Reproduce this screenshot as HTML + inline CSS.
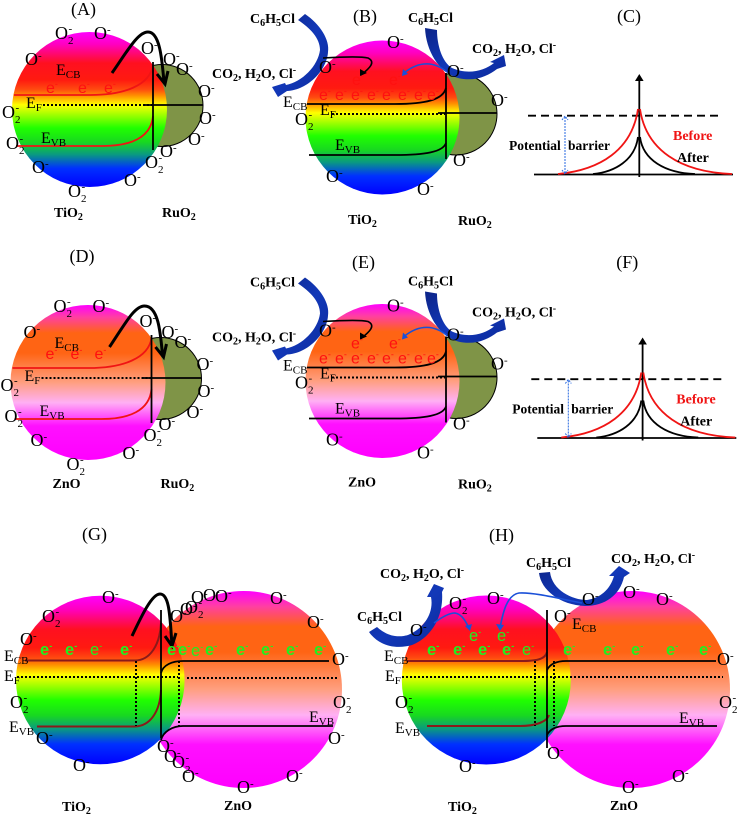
<!DOCTYPE html>
<html>
<head>
<meta charset="utf-8">
<style>
html,body{margin:0;padding:0;background:#fff}
svg{display:block}
text{font-family:"Liberation Serif",serif;fill:#000}
.l{font-size:18px}
.t{font-size:18px}
.b{font-size:16px}
.u{font-size:11px}
.d{font-size:11px}
.n{font-size:14px;font-weight:bold}
.n .d{font-size:10px}
.n .u{font-size:10px}
.pb{font-size:13.5px;font-weight:bold}
.er,.eg{font-family:"Liberation Sans",sans-serif;font-size:16px}
.er{fill:#ff1010}
.eg{fill:#20f020;font-weight:bold;font-size:16.5px}
.eg.th{font-weight:normal}
.er .u,.eg .u{font-size:9px}
.s{fill:none;stroke:#000;stroke-width:1.8}
.r{fill:none;stroke:#f01414;stroke-width:1.8}
.m{fill:none;stroke:#8a1a1a;stroke-width:2}
.dot{fill:none;stroke:#000;stroke-width:2;stroke-dasharray:2 2}
.ar{fill:none;stroke:#000;stroke-width:3}
.bl{fill:none;stroke:#1a50d8;stroke-width:1.6}
.blh{fill:#1a50d8}
</style>
</head>
<body>
<svg width="738" height="815" viewBox="0 0 738 815" xmlns="http://www.w3.org/2000/svg">
<defs>
<linearGradient id="ti" x1="0" y1="0" x2="0" y2="1">
<stop offset="0" stop-color="#ff00ff"/><stop offset=".08" stop-color="#ff00c0"/><stop offset=".2" stop-color="#ff1020"/><stop offset=".31" stop-color="#ff1a10"/><stop offset=".37" stop-color="#ff4a10"/><stop offset=".41" stop-color="#ff9000"/><stop offset=".47" stop-color="#ffff00"/><stop offset=".62" stop-color="#20ff00"/><stop offset=".71" stop-color="#18d820"/><stop offset=".79" stop-color="#0a9a80"/><stop offset=".88" stop-color="#0030ff"/><stop offset="1" stop-color="#0000ff"/>
</linearGradient>
<linearGradient id="zn" x1="0" y1="0" x2="0" y2="1">
<stop offset="0" stop-color="#ff00ff"/><stop offset=".08" stop-color="#ff40a0"/><stop offset=".18" stop-color="#ff6414"/><stop offset=".31" stop-color="#ff6414"/><stop offset=".5" stop-color="#ff9f80"/><stop offset=".63" stop-color="#ffb0f4"/><stop offset=".78" stop-color="#ff10ff"/><stop offset="1" stop-color="#ff00ff"/>
</linearGradient>
<linearGradient id="cr" x1="0" y1="0" x2="1" y2="1">
<stop offset="0" stop-color="#0c2488"/><stop offset=".5" stop-color="#1238b8"/><stop offset="1" stop-color="#0c2a9c"/>
</linearGradient>
</defs>

<!-- PANEL A -->
<g>
<circle cx="162" cy="105.5" r="41" fill="#7f9447" stroke="#000" stroke-width="1"/>
<circle cx="89.5" cy="109.5" r="77.5" fill="url(#ti)"/>
<path class="r" d="M14 95H90C125 95 150 85 153 65"/>
<path class="r" d="M16 146H103C130 146 151 138 153 116"/>
<path class="dot" d="M43 105H153"/>
<path class="s" d="M145 105H203"/>
<path class="s" d="M153 62V150"/>
<path class="ar" d="M112 73C128 50 138 32 148 32C160 32 162 60 164 82M157 74L165 84L168 71"/>
<text class="t" x="71" y="15">(A)</text>
<text class="b" x="56" y="75">E<tspan class="d" dy="3">CB</tspan></text>
<text class="b" x="26" y="108">E<tspan class="d" dy="3">F</tspan></text>
<text class="b" x="41" y="143">E<tspan class="d" dy="3">VB</tspan></text>
<text class="er" x="46" y="93">e<tspan class="u" dy="-6">-</tspan></text>
<text class="er" x="78" y="93">e<tspan class="u" dy="-6">-</tspan></text>
<text class="er" x="104" y="93">e<tspan class="u" dy="-6">-</tspan></text>
<text class="l" x="55" y="39">O<tspan class="d" dy="5">2</tspan><tspan class="u" dx="-5" dy="-12">-</tspan></text>
<text class="l" x="94" y="39">O<tspan class="u" dy="-6">-</tspan></text>
<text class="l" x="25" y="65">O<tspan class="u" dy="-6">-</tspan></text>
<text class="l" x="141" y="54">O<tspan class="u" dy="-6">-</tspan></text>
<text class="l" x="163" y="65">O<tspan class="u" dy="-6">-</tspan></text>
<text class="l" x="176" y="75">O<tspan class="u" dy="-6">-</tspan></text>
<text class="l" x="198" y="97">O<tspan class="u" dy="-6">-</tspan></text>
<text class="l" x="199" y="124">O<tspan class="u" dy="-6">-</tspan></text>
<text class="l" x="188" y="145">O<tspan class="u" dy="-6">-</tspan></text>
<text class="l" x="160" y="157">O<tspan class="u" dy="-6">-</tspan></text>
<text class="l" x="145" y="168">O<tspan class="d" dy="5">2</tspan><tspan class="u" dx="-5" dy="-12">-</tspan></text>
<text class="l" x="124" y="186">O<tspan class="u" dy="-6">-</tspan></text>
<text class="l" x="32" y="173">O<tspan class="u" dy="-6">-</tspan></text>
<text class="l" x="68" y="197">O<tspan class="d" dy="5">2</tspan><tspan class="u" dx="-5" dy="-12">-</tspan></text>
<text class="l" x="6" y="149">O<tspan class="d" dy="5">2</tspan><tspan class="u" dx="-5" dy="-12">-</tspan></text>
<text class="l" x="2" y="118">O<tspan class="d" dy="5">2</tspan><tspan class="u" dx="-5" dy="-12">-</tspan></text>
<text class="n" x="54" y="217">TiO<tspan class="d" dy="3">2</tspan></text>
<text class="n" x="162" y="217">RuO<tspan class="d" dy="3">2</tspan></text>
</g>

<!-- PANEL D -->
<g transform="translate(-1.5 273)">
<circle cx="162" cy="105.5" r="41" fill="#7f9447" stroke="#000" stroke-width="1"/>
<circle cx="89.5" cy="109.5" r="77.5" fill="url(#zn)"/>
<path class="r" d="M14 95H90C125 95 150 85 153 65"/>
<path class="r" d="M16 146H103C130 146 151 138 153 116"/>
<path class="dot" d="M43 105H153"/>
<path class="s" d="M145 105H203"/>
<path class="s" d="M153 62V150"/>
<path class="ar" d="M111 74C127 50 136 33 146 33C160 33 162 60 164 82M157 74L165 84L168 71"/>
<text class="t" x="71" y="-11">(D)</text>
<text class="b" x="56" y="75">E<tspan class="d" dy="3">CB</tspan></text>
<text class="b" x="26" y="108">E<tspan class="d" dy="3">F</tspan></text>
<text class="b" x="41" y="143">E<tspan class="d" dy="3">VB</tspan></text>
<text class="er" x="47" y="86">e<tspan class="u" dy="-6">-</tspan></text>
<text class="er" x="72" y="86">e<tspan class="u" dy="-6">-</tspan></text>
<text class="er" x="96" y="86">e<tspan class="u" dy="-6">-</tspan></text>
<text class="l" x="55" y="39">O<tspan class="d" dy="5">2</tspan><tspan class="u" dx="-5" dy="-12">-</tspan></text>
<text class="l" x="94" y="39">O<tspan class="u" dy="-6">-</tspan></text>
<text class="l" x="25" y="65">O<tspan class="u" dy="-6">-</tspan></text>
<text class="l" x="141" y="54">O<tspan class="u" dy="-6">-</tspan></text>
<text class="l" x="163" y="65">O<tspan class="u" dy="-6">-</tspan></text>
<text class="l" x="176" y="75">O<tspan class="u" dy="-6">-</tspan></text>
<text class="l" x="198" y="97">O<tspan class="u" dy="-6">-</tspan></text>
<text class="l" x="199" y="124">O<tspan class="u" dy="-6">-</tspan></text>
<text class="l" x="188" y="145">O<tspan class="u" dy="-6">-</tspan></text>
<text class="l" x="160" y="157">O<tspan class="u" dy="-6">-</tspan></text>
<text class="l" x="145" y="168">O<tspan class="d" dy="5">2</tspan><tspan class="u" dx="-5" dy="-12">-</tspan></text>
<text class="l" x="124" y="186">O<tspan class="u" dy="-6">-</tspan></text>
<text class="l" x="32" y="173">O<tspan class="u" dy="-6">-</tspan></text>
<text class="l" x="68" y="197">O<tspan class="d" dy="5">2</tspan><tspan class="u" dx="-5" dy="-12">-</tspan></text>
<text class="l" x="6" y="149">O<tspan class="d" dy="5">2</tspan><tspan class="u" dx="-5" dy="-12">-</tspan></text>
<text class="l" x="2" y="118">O<tspan class="d" dy="5">2</tspan><tspan class="u" dx="-5" dy="-12">-</tspan></text>
<text class="n" x="54" y="215">ZnO</text>
<text class="n" x="162" y="215">RuO<tspan class="d" dy="3">2</tspan></text>
</g>

<!-- PANEL B -->
<g>
<circle cx="456" cy="114" r="41" fill="#7f9447" stroke="#000" stroke-width="1"/>
<circle cx="382.5" cy="117.5" r="77" fill="url(#ti)"/>
<path class="s" d="M307 104H395C425 104 443 100 446 88"/>
<path class="s" d="M309 155H395C425 155 443 152 446 143"/>
<path class="dot" d="M332 114H445"/>
<path class="s" d="M438 113H497"/>
<path class="s" d="M446 73V159"/>
<path fill="url(#cr)" d="M305 14C320 24 330 40 328 52C327 70 308 90 287 91L278 97L272 87L285 83L286 85C302 82 318 66 320 50C320 38 310 28 298 20Z"/>
<path fill="url(#cr)" d="M425 28C426 50 438 72 458 78C475 82 488 76 497 69L506 66L504 55L490 62L494 63C484 71 468 75 452 68C442 62 437 45 437 30Z"/>
<path fill="none" stroke="#000" stroke-width="1.6" d="M323 58C340 57 360 56 368 58C376 62 370 68 361 75"/>
<path fill="#000" d="M360 76L360 69L367 73Z"/>
<path class="bl" d="M447 72C435 62 420 60 404 73"/>
<path class="blh" d="M402 76L403 69L408 74Z"/>
<text class="t" x="353" y="22">(B)</text>
<text class="n" x="250" y="23">C<tspan class="d" dy="3">6</tspan><tspan dy="-3">H</tspan><tspan class="d" dy="3">5</tspan><tspan dy="-3">Cl</tspan></text>
<text class="n" x="408" y="22">C<tspan class="d" dy="3">6</tspan><tspan dy="-3">H</tspan><tspan class="d" dy="3">5</tspan><tspan dy="-3">Cl</tspan></text>
<text class="n" x="212" y="78">CO<tspan class="d" dy="3">2</tspan><tspan dy="-3">, H</tspan><tspan class="d" dy="3">2</tspan><tspan dy="-3">O, Cl</tspan><tspan class="u" dy="-5">-</tspan></text>
<text class="n" x="472" y="53">CO<tspan class="d" dy="3">2</tspan><tspan dy="-3">, H</tspan><tspan class="d" dy="3">2</tspan><tspan dy="-3">O, Cl</tspan><tspan class="u" dy="-5">-</tspan></text>
<text class="b" x="283" y="107">E<tspan class="d" dy="3">CB</tspan></text>
<text class="b" x="320" y="115">E<tspan class="d" dy="3">F</tspan></text>
<text class="b" x="335" y="150">E<tspan class="d" dy="3">VB</tspan></text>
<text class="er" x="319" y="100">e<tspan class="u" dy="-6">-</tspan></text>
<text class="er" x="335" y="100">e<tspan class="u" dy="-6">-</tspan></text>
<text class="er" x="351" y="100">e<tspan class="u" dy="-6">-</tspan></text>
<text class="er" x="367" y="100">e<tspan class="u" dy="-6">-</tspan></text>
<text class="er" x="382" y="100">e<tspan class="u" dy="-6">-</tspan></text>
<text class="er" x="398" y="100">e<tspan class="u" dy="-6">-</tspan></text>
<text class="er" x="414" y="100">e<tspan class="u" dy="-6">-</tspan></text>
<text class="er" x="427" y="100">e<tspan class="u" dy="-6">-</tspan></text>
<text class="er" x="352" y="85">e<tspan class="u" dy="-6">-</tspan></text>
<text class="er" x="389" y="85">e<tspan class="u" dy="-6">-</tspan></text>
<text class="l" x="295" y="125">O<tspan class="d" dy="5">2</tspan><tspan class="u" dx="-5" dy="-12">-</tspan></text>
<text class="l" x="387" y="48">O<tspan class="u" dy="-6">-</tspan></text>
<text class="l" x="319" y="73">O<tspan class="u" dy="-6">-</tspan></text>
<text class="l" x="447" y="77">O<tspan class="u" dy="-6">-</tspan></text>
<text class="l" x="491" y="106">O<tspan class="u" dy="-6">-</tspan></text>
<text class="l" x="453" y="166">O<tspan class="u" dy="-6">-</tspan></text>
<text class="l" x="326" y="182">O<tspan class="u" dy="-6">-</tspan></text>
<text class="l" x="417" y="195">O<tspan class="u" dy="-6">-</tspan></text>
<text class="n" x="348" y="224">TiO<tspan class="d" dy="3">2</tspan></text>
<text class="n" x="458" y="225">RuO<tspan class="d" dy="3">2</tspan></text>
</g>

<!-- PANEL E -->
<g transform="translate(0 263.5)">
<circle cx="456" cy="114" r="41" fill="#7f9447" stroke="#000" stroke-width="1"/>
<circle cx="382.5" cy="117.5" r="77" fill="url(#zn)"/>
<path class="s" d="M307 104H395C425 104 443 100 446 88"/>
<path class="s" d="M309 155H395C425 155 443 152 446 143"/>
<path class="dot" d="M332 114H445"/>
<path class="s" d="M438 113H497"/>
<path class="s" d="M446 73V159"/>
<path fill="url(#cr)" d="M305 14C320 24 330 40 328 52C327 70 308 90 287 91L278 97L272 87L285 83L286 85C302 82 318 66 320 50C320 38 310 28 298 20Z"/>
<path fill="url(#cr)" d="M425 28C426 50 438 72 458 78C475 82 488 76 497 69L506 66L504 55L490 62L494 63C484 71 468 75 452 68C442 62 437 45 437 30Z"/>
<path fill="none" stroke="#000" stroke-width="1.6" d="M323 58C340 57 360 56 368 58C376 62 370 68 361 75"/>
<path fill="#000" d="M360 76L360 69L367 73Z"/>
<path class="bl" d="M447 72C435 62 420 60 404 73"/>
<path class="blh" d="M402 76L403 69L408 74Z"/>
<text class="t" x="352" y="4.5">(E)</text>
<text class="n" x="250" y="23">C<tspan class="d" dy="3">6</tspan><tspan dy="-3">H</tspan><tspan class="d" dy="3">5</tspan><tspan dy="-3">Cl</tspan></text>
<text class="n" x="408" y="22">C<tspan class="d" dy="3">6</tspan><tspan dy="-3">H</tspan><tspan class="d" dy="3">5</tspan><tspan dy="-3">Cl</tspan></text>
<text class="n" x="212" y="78">CO<tspan class="d" dy="3">2</tspan><tspan dy="-3">, H</tspan><tspan class="d" dy="3">2</tspan><tspan dy="-3">O, Cl</tspan><tspan class="u" dy="-5">-</tspan></text>
<text class="n" x="472" y="53">CO<tspan class="d" dy="3">2</tspan><tspan dy="-3">, H</tspan><tspan class="d" dy="3">2</tspan><tspan dy="-3">O, Cl</tspan><tspan class="u" dy="-5">-</tspan></text>
<text class="b" x="283" y="107">E<tspan class="d" dy="3">CB</tspan></text>
<text class="b" x="320" y="115">E<tspan class="d" dy="3">F</tspan></text>
<text class="b" x="335" y="150">E<tspan class="d" dy="3">VB</tspan></text>
<text class="er" x="319" y="100">e<tspan class="u" dy="-6">-</tspan></text>
<text class="er" x="335" y="100">e<tspan class="u" dy="-6">-</tspan></text>
<text class="er" x="351" y="100">e<tspan class="u" dy="-6">-</tspan></text>
<text class="er" x="367" y="100">e<tspan class="u" dy="-6">-</tspan></text>
<text class="er" x="382" y="100">e<tspan class="u" dy="-6">-</tspan></text>
<text class="er" x="398" y="100">e<tspan class="u" dy="-6">-</tspan></text>
<text class="er" x="414" y="100">e<tspan class="u" dy="-6">-</tspan></text>
<text class="er" x="427" y="100">e<tspan class="u" dy="-6">-</tspan></text>
<text class="er" x="351" y="85">e<tspan class="u" dy="-6">-</tspan></text>
<text class="er" x="389" y="85">e<tspan class="u" dy="-6">-</tspan></text>
<text class="l" x="295" y="125">O<tspan class="d" dy="5">2</tspan><tspan class="u" dx="-5" dy="-12">-</tspan></text>
<text class="l" x="387" y="48">O<tspan class="u" dy="-6">-</tspan></text>
<text class="l" x="319" y="73">O<tspan class="u" dy="-6">-</tspan></text>
<text class="l" x="447" y="77">O<tspan class="u" dy="-6">-</tspan></text>
<text class="l" x="491" y="106">O<tspan class="u" dy="-6">-</tspan></text>
<text class="l" x="453" y="166">O<tspan class="u" dy="-6">-</tspan></text>
<text class="l" x="326" y="182">O<tspan class="u" dy="-6">-</tspan></text>
<text class="l" x="417" y="195">O<tspan class="u" dy="-6">-</tspan></text>
<text class="n" x="348" y="223">ZnO</text>
<text class="n" x="458" y="225">RuO<tspan class="d" dy="3">2</tspan></text>
</g>

<!-- PANEL C -->
<g>
<path class="s" d="M534 174.5H733"/>
<path class="s" d="M639.3 177V78"/>
<path d="M639.3 74L635 81H643.6Z" fill="#000"/>
<path fill="none" stroke="#000" stroke-width="1.8" stroke-dasharray="8 5" d="M528 115.7H723"/>
<path class="r" d="M558 174C600 170 632 150 638 109M640 109C646 150 680 172 732 174"/>
<path class="s" d="M593 174C615 172 635 160 638 137M640 137C643 160 665 173 695 174"/>
<path fill="none" stroke="#2a6ae0" stroke-width="1" stroke-dasharray="2 1" d="M565 117V173M562 120L565 116L568 120M562 170L565 174L568 170"/>
<text class="t" x="617" y="22">(C)</text>
<text class="pb" x="509" y="150">Potential <tspan x="568">barrier</tspan></text>
<text class="n" x="673" y="140" style="fill:#f01414">Before</text>
<text class="n" x="677" y="162">After</text>
</g>

<!-- PANEL F -->
<g transform="translate(3.3 263.5)">
<path class="s" d="M534 174.5H733"/>
<path class="s" d="M639.3 177V78"/>
<path d="M639.3 74L635 81H643.6Z" fill="#000"/>
<path fill="none" stroke="#000" stroke-width="1.8" stroke-dasharray="8 5" d="M528 115.7H723"/>
<path class="r" d="M558 174C600 170 632 150 638 109M640 109C646 150 680 172 732 174"/>
<path class="s" d="M593 174C615 172 635 160 638 137M640 137C643 160 665 173 695 174"/>
<path fill="none" stroke="#2a6ae0" stroke-width="1" stroke-dasharray="2 1" d="M565 117V173M562 120L565 116L568 120M562 170L565 174L568 170"/>
<text class="t" x="613" y="4.5">(F)</text>
<text class="pb" x="509" y="150">Potential <tspan x="568">barrier</tspan></text>
<text class="n" x="673" y="140" style="fill:#f01414">Before</text>
<text class="n" x="677" y="162">After</text>
</g>

<!-- PANEL G -->
<g>
<circle cx="243.5" cy="689.5" r="98.5" fill="url(#zn)"/>
<circle cx="100.3" cy="680" r="84.3" fill="url(#ti)"/>
<path class="m" d="M25 660.5H135C150 660.5 160 645 161 623"/>
<path class="m" d="M37 726.5H135C150 726 160 712 161 690"/>
<path class="s" d="M161 673C163 665 172 661 183 661H329"/>
<path class="s" d="M161 740C163 732 172 726 183 726H333"/>
<path class="dot" d="M17 677H178"/>
<path class="dot" d="M187 678H338"/>
<path class="dot" d="M136 661V726"/>
<path class="dot" d="M179 661V726"/>
<path class="s" d="M161 610V738"/>
<path class="ar" d="M132 636C142 615 152 594 160 594C170 594 170 620 172 645M165 636L172 646L176 633"/>
<text class="t" x="82" y="540">(G)</text>
<text class="b" x="4" y="661">E<tspan class="d" dy="3">CB</tspan></text>
<text class="b" x="4" y="681">E<tspan class="d" dy="3">F</tspan></text>
<text class="b" x="9" y="732">E<tspan class="d" dy="3">VB</tspan></text>
<text class="b" x="309" y="722">E<tspan class="d" dy="3">VB</tspan></text>
<text class="eg" x="40" y="655">e<tspan class="u" dy="-6">-</tspan></text>
<text class="eg" x="65" y="655">e<tspan class="u" dy="-6">-</tspan></text>
<text class="eg th" x="90" y="655">e<tspan class="u" dy="-6">-</tspan></text>
<text class="eg" x="120" y="655">e<tspan class="u" dy="-6">-</tspan></text>
<text class="eg" x="167" y="655">e<tspan class="u" dy="-6">-</tspan></text>
<text class="eg" x="178" y="655">e<tspan class="u" dy="-6">-</tspan></text>
<text class="eg th" x="191" y="656">e<tspan class="u" dy="-6">-</tspan></text>
<text class="eg" x="205" y="655">e<tspan class="u" dy="-6">-</tspan></text>
<text class="eg" x="236" y="655">e<tspan class="u" dy="-6">-</tspan></text>
<text class="eg" x="261" y="655">e<tspan class="u" dy="-6">-</tspan></text>
<text class="eg" x="286" y="655">e<tspan class="u" dy="-6">-</tspan></text>
<text class="eg" x="314" y="655">e<tspan class="u" dy="-6">-</tspan></text>
<text class="l" x="102" y="603">O<tspan class="u" dy="-6">-</tspan></text>
<text class="l" x="42" y="622">O<tspan class="d" dy="5">2</tspan><tspan class="u" dx="-5" dy="-12">-</tspan></text>
<text class="l" x="20" y="645">O<tspan class="u" dy="-6">-</tspan></text>
<text class="l" x="10" y="708">O<tspan class="d" dy="5">2</tspan><tspan class="u" dx="-5" dy="-12">-</tspan></text>
<text class="l" x="36" y="744">O<tspan class="u" dy="-6">-</tspan></text>
<text class="l" x="73" y="771">O<tspan class="u" dy="-6">-</tspan></text>
<text class="l" x="157" y="752">O<tspan class="u" dy="-6">-</tspan></text>
<text class="l" x="164" y="762">O<tspan class="u" dy="-6">-</tspan></text>
<text class="l" x="172" y="768">O<tspan class="d" dy="5">2</tspan><tspan class="u" dx="-5" dy="-12">-</tspan></text>
<text class="l" x="182" y="782">O<tspan class="u" dy="-6">-</tspan></text>
<text class="l" x="237" y="793">O<tspan class="u" dy="-6">-</tspan></text>
<text class="l" x="286" y="782">O<tspan class="u" dy="-6">-</tspan></text>
<text class="l" x="328" y="744">O<tspan class="u" dy="-6">-</tspan></text>
<text class="l" x="333" y="708">O<tspan class="d" dy="5">2</tspan><tspan class="u" dx="-5" dy="-12">-</tspan></text>
<text class="l" x="332" y="665">O<tspan class="u" dy="-6">-</tspan></text>
<text class="l" x="307" y="628">O<tspan class="u" dy="-6">-</tspan></text>
<text class="l" x="270" y="604">O<tspan class="u" dy="-6">-</tspan></text>
<text class="l" x="170" y="622">O<tspan class="u" dy="-6">-</tspan></text>
<text class="l" x="180" y="615">O<tspan class="u" dy="-6">-</tspan></text>
<text class="l" x="185" y="613">O<tspan class="d" dy="5">2</tspan><tspan class="u" dx="-5" dy="-12">-</tspan></text>
<text class="l" x="191" y="603">O<tspan class="u" dy="-6">-</tspan></text>
<text class="l" x="203" y="601">O<tspan class="u" dy="-6">-</tspan></text>
<text class="l" x="215" y="602">O<tspan class="u" dy="-6">-</tspan></text>
<text class="n" x="62" y="811">TiO<tspan class="d" dy="3">2</tspan></text>
<text class="n" x="224" y="810">ZnO</text>
</g>

<!-- PANEL H -->
<g>
<circle cx="631.5" cy="689.5" r="98.5" fill="url(#zn)"/>
<circle cx="486.3" cy="680" r="84.5" fill="url(#ti)"/>
<path class="m" d="M407 661H520C535 661 545 660 547 652"/>
<path class="m" d="M427 726H520C535 726 547 722 549 715"/>
<path class="s" d="M547 670C550 664 556 661 566 661H716"/>
<path class="s" d="M547 735C550 729 556 726 566 726H717"/>
<path class="dot" d="M402 677H723"/>
<path class="dot" d="M535 661V726"/>
<path class="dot" d="M554 661V726"/>
<path class="s" d="M547 610V748"/>
<path fill="url(#cr)" d="M369 632C378 645 395 650 412 645C430 638 444 618 442 592L444 588L434 584L427 597L431 597C434 612 425 628 408 635C398 638 387 636 377 627Z"/>
<path fill="url(#cr)" d="M539 573C541 590 560 605 585 606C605 606 620 595 624 577L630 573L619 566L609 576L614 576C610 590 600 598 587 600C572 600 552 590 550 572Z"/>
<path class="bl" d="M434 623C442 617 450 613 455 613C462 614 466 622 469 628"/>
<path class="blh" d="M470 631L465 626L472 624Z"/>
<path class="bl" d="M582 603C565 600 535 592 519 593C507 595 503 612 500 628"/>
<path class="blh" d="M500 631L496 624L504 625Z"/>
<text class="t" x="489" y="541">(H)</text>
<text class="n" x="357" y="621">C<tspan class="d" dy="3">6</tspan><tspan dy="-3">H</tspan><tspan class="d" dy="3">5</tspan><tspan dy="-3">Cl</tspan></text>
<text class="n" x="526" y="567">C<tspan class="d" dy="3">6</tspan><tspan dy="-3">H</tspan><tspan class="d" dy="3">5</tspan><tspan dy="-3">Cl</tspan></text>
<text class="n" x="380" y="578">CO<tspan class="d" dy="3">2</tspan><tspan dy="-3">, H</tspan><tspan class="d" dy="3">2</tspan><tspan dy="-3">O, Cl</tspan><tspan class="u" dy="-5">-</tspan></text>
<text class="n" x="611" y="563">CO<tspan class="d" dy="3">2</tspan><tspan dy="-3">, H</tspan><tspan class="d" dy="3">2</tspan><tspan dy="-3">O, Cl</tspan><tspan class="u" dy="-5">-</tspan></text>
<text class="b" x="384" y="661">E<tspan class="d" dy="3">CB</tspan></text>
<text class="b" x="572" y="629">E<tspan class="d" dy="3">CB</tspan></text>
<text class="b" x="385" y="681">E<tspan class="d" dy="3">F</tspan></text>
<text class="b" x="395" y="733">E<tspan class="d" dy="3">VB</tspan></text>
<text class="b" x="679" y="723">E<tspan class="d" dy="3">VB</tspan></text>
<text class="eg" x="427" y="655">e<tspan class="u" dy="-6">-</tspan></text>
<text class="eg" x="453" y="655">e<tspan class="u" dy="-6">-</tspan></text>
<text class="eg" x="478" y="655">e<tspan class="u" dy="-6">-</tspan></text>
<text class="eg" x="502" y="655">e<tspan class="u" dy="-6">-</tspan></text>
<text class="eg th" x="522" y="655">e<tspan class="u" dy="-6">-</tspan></text>
<text class="eg" x="563" y="655">e<tspan class="u" dy="-6">-</tspan></text>
<text class="eg" x="603" y="655">e<tspan class="u" dy="-6">-</tspan></text>
<text class="eg" x="631" y="655">e<tspan class="u" dy="-6">-</tspan></text>
<text class="eg" x="666" y="655">e<tspan class="u" dy="-6">-</tspan></text>
<text class="eg" x="699" y="655">e<tspan class="u" dy="-6">-</tspan></text>
<text class="eg th" x="469" y="641">e<tspan class="u" dy="-6">-</tspan></text>
<text class="eg th" x="497" y="641">e<tspan class="u" dy="-6">-</tspan></text>
<text class="l" x="449" y="609">O<tspan class="d" dy="5">2</tspan><tspan class="u" dx="-5" dy="-12">-</tspan></text>
<text class="l" x="487" y="604">O<tspan class="u" dy="-6">-</tspan></text>
<text class="l" x="410" y="636">O<tspan class="u" dy="-6">-</tspan></text>
<text class="l" x="395" y="708">O<tspan class="d" dy="5">2</tspan><tspan class="u" dx="-5" dy="-12">-</tspan></text>
<text class="l" x="459" y="772">O<tspan class="u" dy="-6">-</tspan></text>
<text class="l" x="547" y="759">O<tspan class="u" dy="-6">-</tspan></text>
<text class="l" x="554" y="622">O<tspan class="u" dy="-6">-</tspan></text>
<text class="l" x="582" y="605">O<tspan class="u" dy="-6">-</tspan></text>
<text class="l" x="623" y="598">O<tspan class="u" dy="-6">-</tspan></text>
<text class="l" x="656" y="605">O<tspan class="u" dy="-6">-</tspan></text>
<text class="l" x="717" y="665">O<tspan class="u" dy="-6">-</tspan></text>
<text class="l" x="719" y="708">O<tspan class="d" dy="5">2</tspan><tspan class="u" dx="-5" dy="-12">-</tspan></text>
<text class="l" x="672" y="782">O<tspan class="u" dy="-6">-</tspan></text>
<text class="l" x="622" y="793">O<tspan class="u" dy="-6">-</tspan></text>
<text class="n" x="448" y="811">TiO<tspan class="d" dy="3">2</tspan></text>
<text class="n" x="610" y="810">ZnO</text>
</g>
</svg>
</body>
</html>
